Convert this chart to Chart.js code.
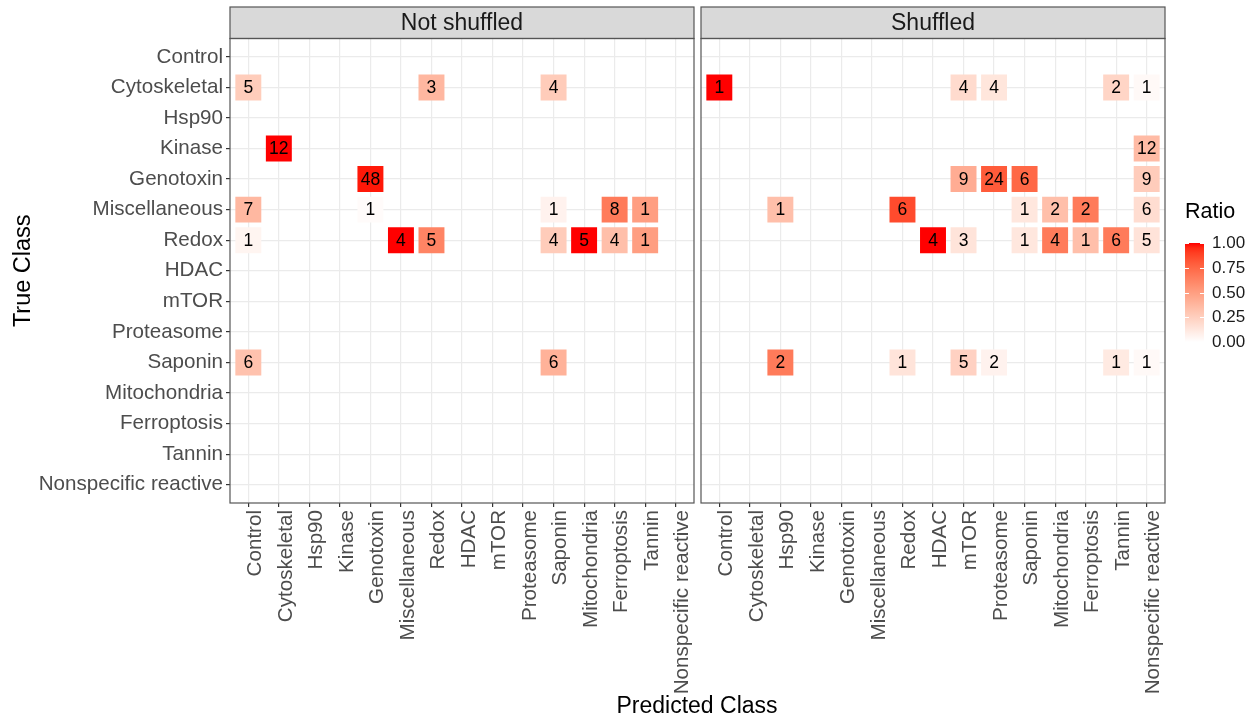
<!DOCTYPE html>
<html>
<head>
<meta charset="utf-8">
<script src="https://cdn.jsdelivr.net/npm/chart.js@4.4.1/dist/chart.umd.min.js"></script>
<style>
  body { margin: 0; background: #fff; }
  #wrap { position: relative; width: 1255px; height: 719px; font-family: "Liberation Sans", Arial, sans-serif; }
  #wrap canvas { position: absolute; left: 0; top: 0; }
  #xtitle { position: absolute; left: 697px; top: 692px; transform: translateX(-50%); font-size: 23px; color: #000; white-space: nowrap; }
</style>
</head>
<body>
<div id="wrap">
  <canvas id="plain" width="1255" height="719"></canvas>
  <canvas id="shuffled" width="1255" height="719"></canvas>
  <div id="xtitle">Predicted Class</div>
</div>
<script>
/* ---------- classes (same order on both axes) ---------- */
const classes = [
  "Control", "Cytoskeletal", "Hsp90", "Kinase", "Genotoxin", "Miscellaneous", "Redox",
  "HDAC", "mTOR", "Proteasome", "Saponin", "Mitochondria", "Ferroptosis", "Tannin",
  "Nonspecific reactive",
];

/* ---------- Not shuffled: true class / predicted class / count ---------- */
const plainTrue = [
  "Cytoskeletal", "Cytoskeletal", "Cytoskeletal",
  "Kinase",
  "Genotoxin",
  "Miscellaneous", "Miscellaneous", "Miscellaneous", "Miscellaneous", "Miscellaneous",
  "Redox", "Redox", "Redox", "Redox", "Redox", "Redox", "Redox",
  "Saponin", "Saponin",
];
const plainPred = [
  "Control", "Redox", "Saponin",
  "Cytoskeletal",
  "Genotoxin",
  "Control", "Genotoxin", "Saponin", "Ferroptosis", "Tannin",
  "Control", "Miscellaneous", "Redox", "Saponin", "Mitochondria", "Ferroptosis", "Tannin",
  "Control", "Saponin",
];
const plainCount = [
  5, 3, 4,
  12,
  48,
  7, 1, 1, 8, 1,
  1, 4, 5, 4, 5, 4, 1,
  6, 6,
];

/* ---------- Shuffled ---------- */
const shufTrue = [
  "Cytoskeletal", "Cytoskeletal", "Cytoskeletal", "Cytoskeletal", "Cytoskeletal",
  "Kinase",
  "Genotoxin", "Genotoxin", "Genotoxin", "Genotoxin",
  "Miscellaneous", "Miscellaneous", "Miscellaneous", "Miscellaneous", "Miscellaneous", "Miscellaneous",
  "Redox", "Redox", "Redox", "Redox", "Redox", "Redox", "Redox",
  "Saponin", "Saponin", "Saponin", "Saponin", "Saponin", "Saponin",
];
const shufPred = [
  "Control", "mTOR", "Proteasome", "Tannin", "Nonspecific reactive",
  "Nonspecific reactive",
  "mTOR", "Proteasome", "Saponin", "Nonspecific reactive",
  "Hsp90", "Redox", "Saponin", "Mitochondria", "Ferroptosis", "Nonspecific reactive",
  "HDAC", "mTOR", "Saponin", "Mitochondria", "Ferroptosis", "Tannin", "Nonspecific reactive",
  "Hsp90", "Redox", "mTOR", "Proteasome", "Tannin", "Nonspecific reactive",
];
const shufCount = [
  1, 4, 4, 2, 1,
  12,
  9, 24, 6, 9,
  1, 6, 1, 2, 2, 6,
  4, 3, 1, 4, 1, 6, 5,
  2, 1, 5, 2, 1, 1,
];

const ratioBreaks = [0, 0.25, 0.5, 0.75, 1];

const FONT = '"Liberation Sans", Arial, sans-serif';

/* ---------- white -> red gradient, interpolated in Lab ---------- */
const RED_LAB = [53.2408, 80.0925, 67.2032];

function labToHex(L, a, b) {
  const fy = (L + 16) / 116, fx = fy + a / 500, fz = fy - b / 200;
  const f = (t) => (t * t * t > 0.008856 ? t * t * t : (t - 16 / 116) / 7.787);
  const X = 0.95047 * f(fx), Y = f(fy), Z = 1.08883 * f(fz);
  const lin = [
    3.2406 * X - 1.5372 * Y - 0.4986 * Z,
    -0.9689 * X + 1.8758 * Y + 0.0415 * Z,
    0.0557 * X - 0.204 * Y + 1.057 * Z,
  ];
  return "#" + lin.map((c) => {
    c = c <= 0.0031308 ? 12.92 * c : 1.055 * Math.pow(c, 1 / 2.4) - 0.055;
    const v = Math.round(Math.min(1, Math.max(0, c)) * 255);
    return v.toString(16).padStart(2, "0");
  }).join("");
}

function ratioColor(t) {
  return labToHex(100 + (RED_LAB[0] - 100) * t, RED_LAB[1] * t, RED_LAB[2] * t);
}

/* ---------- tiles: ratio = count / total of the predicted class ---------- */
function buildTiles(trueCls, predCls, counts) {
  const colTotal = classes.map((c) =>
    counts.reduce((s, n, i) => s + (predCls[i] === c ? n : 0), 0)
  );
  return trueCls.map((t, i) => {
    const col = classes.indexOf(predCls[i]);
    return {
      x: [col - 0.425, col + 0.425],
      y: classes.indexOf(t),
      n: counts[i],
      ratio: counts[i] / colTotal[col],
    };
  });
}

/* ---------- plugins ---------- */
const panelFrame = {
  id: "panelFrame",
  afterDraw(chart, args, opts) {
    const { ctx, chartArea: a } = chart;
    ctx.save();
    ctx.fillStyle = "#d9d9d9";
    ctx.fillRect(a.left, 7, a.width, a.top - 7);
    ctx.strokeStyle = "#555";
    ctx.lineWidth = 1.2;
    ctx.strokeRect(a.left, 7, a.width, a.top - 7);
    ctx.strokeRect(a.left, a.top, a.width, a.height);
    ctx.fillStyle = "#1a1a1a";
    ctx.font = "23px " + FONT;
    ctx.textAlign = "center";
    ctx.textBaseline = "middle";
    ctx.fillText(opts.text, (a.left + a.right) / 2, (7 + a.top) / 2 + 1);
    ctx.restore();
  },
};

const tileLabels = {
  id: "tileLabels",
  afterDatasetsDraw(chart) {
    const { ctx } = chart;
    const ds = chart.data.datasets[0];
    ctx.save();
    ctx.fillStyle = "#000";
    ctx.font = "17.5px " + FONT;
    ctx.textAlign = "center";
    ctx.textBaseline = "middle";
    chart.getDatasetMeta(0).data.forEach((bar, i) => {
      ctx.fillText(ds.data[i].n, (bar.x + bar.base) / 2, bar.y + 1);
    });
    ctx.restore();
  },
};

const ratioLegend = {
  id: "ratioLegend",
  afterDraw(chart) {
    const { ctx } = chart;
    const left = 1185, top = 243, w = 19, h = 99;
    ctx.save();
    ctx.fillStyle = "#000";
    ctx.font = "21.5px " + FONT;
    ctx.textAlign = "left";
    ctx.textBaseline = "alphabetic";
    ctx.fillText("Ratio", 1185, 218);

    const grad = ctx.createLinearGradient(0, top + h, 0, top);
    for (let k = 0; k <= 20; k++) grad.addColorStop(k / 20, ratioColor(k / 20));
    ctx.fillStyle = grad;
    ctx.fillRect(left, top, w, h);

    ctx.strokeStyle = "#fff";
    ctx.lineWidth = 1;
    ctx.font = "17px " + FONT;
    ctx.textBaseline = "middle";
    ctx.fillStyle = "#1a1a1a";
    ratioBreaks.forEach((v) => {
      const y = Math.round(top + (1 - v) * h) + 0.5;
      ctx.beginPath();
      ctx.moveTo(left, y); ctx.lineTo(left + 4, y);
      ctx.moveTo(left + w - 4, y); ctx.lineTo(left + w, y);
      ctx.stroke();
      ctx.fillText(v.toFixed(2), left + w + 8, y);
    });
    ctx.restore();
  },
};

/* ---------- one facet panel ---------- */
function crearPanel(id, title, tiles, showY, padLeft, padRight, extra) {
  const tickFont = { family: FONT, size: 20.6 };
  return new Chart(document.getElementById(id), {
    type: "bar",
    data: {
      datasets: [
        {
          data: tiles,
          backgroundColor: tiles.map((d) => ratioColor(d.ratio)),
          borderWidth: 0,
          barPercentage: 0.85,
          categoryPercentage: 1,
        },
      ],
    },
    plugins: [panelFrame, tileLabels].concat(extra),
    options: {
      responsive: false,
      animation: false,
      indexAxis: "y",
      layout: { padding: { left: padLeft, right: padRight, top: 38.5, bottom: 0 } },
      plugins: {
        legend: { display: false },
        tooltip: { enabled: false },
        panelFrame: { text: title },
      },
      scales: {
        x: {
          type: "linear",
          min: -0.6,
          max: 14.6,
          afterBuildTicks: (s) => { s.ticks = classes.map((_, i) => ({ value: i })); },
          afterFit: (s) => { s.height = 216; },
          ticks: {
            callback: (v) => classes[v],
            minRotation: 90,
            maxRotation: 90,
            autoSkip: false,
            padding: 3,
            labelOffset: 7,
            color: "#4d4d4d",
            font: tickFont,
          },
          grid: { color: "#ebebeb", lineWidth: 1.2, tickColor: "#333", tickLength: 4 },
          border: { display: false },
        },
        y: {
          type: "linear",
          reverse: true,
          offset: false,
          min: -0.6,
          max: 14.6,
          afterBuildTicks: (s) => { s.ticks = classes.map((_, i) => ({ value: i })); },
          afterFit: (s) => { s.width = showY ? 230 : 0; },
          ticks: {
            display: showY,
            callback: (v) => classes[v],
            padding: 3,
            color: "#4d4d4d",
            font: tickFont,
          },
          grid: { offset: false, color: "#ebebeb", lineWidth: 1.2, tickColor: "#333", tickLength: 4, drawTicks: showY },
          border: { display: false },
          title: {
            display: showY,
            text: "True Class",
            color: "#000",
            font: { family: FONT, size: 23.5 },
            padding: { top: 9, bottom: 0 },
          },
        },
      },
    },
  });
}

crearPanel("plain", "Not shuffled", buildTiles(plainTrue, plainPred, plainCount), true, 0, 561, []);
crearPanel("shuffled", "Shuffled", buildTiles(shufTrue, shufPred, shufCount), false, 701, 90, [ratioLegend]);
</script>
</body>
</html>
